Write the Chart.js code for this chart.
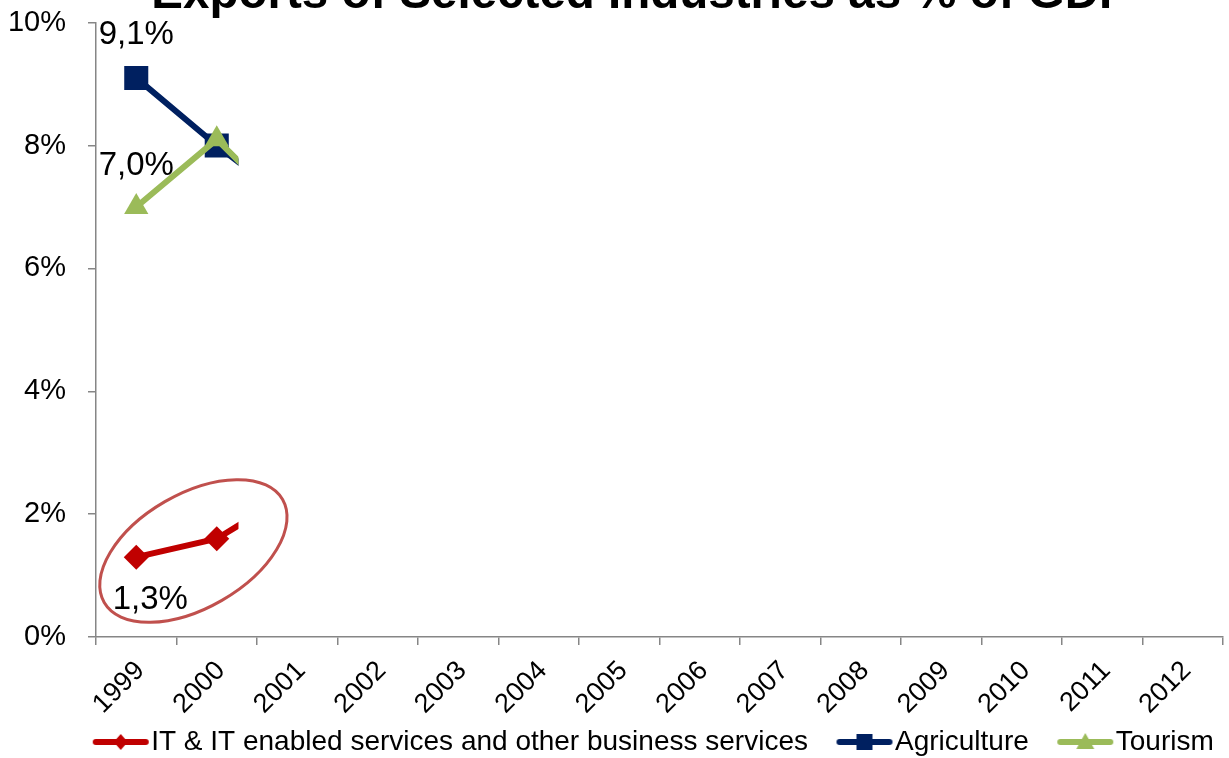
<!DOCTYPE html>
<html>
<head>
<meta charset="utf-8">
<script src="https://cdn.jsdelivr.net/npm/chart.js@4/dist/chart.umd.min.js"></script>
<style>
    html, body { margin: 0; padding: 0; background: #fff; }
    #wrap { position: relative; width: 1229px; height: 758px; overflow: hidden; }
    #chart { position: absolute; left: 0; top: -40px; }
</style>
</head>
<body>
<div id="wrap"><canvas id="chart" width="1240" height="806"></canvas></div>
<script>
// DATA
const years = ['1999', '2000', '2001', '2002', '2003', '2004', '2005', '2006', '2007', '2008', '2009', '2010', '2011', '2012'];
const itValues = [1.3, 1.6, 2.4, null, null, null, null, null, null, null, null, null, null, null];
const agricultureValues = [9.1, 8.0, 7.0, null, null, null, null, null, null, null, null, null, null, null];
const tourismValues = [7.0, 8.1, 6.8, null, null, null, null, null, null, null, null, null, null, null];
const yTicks = [0, 2, 4, 6, 8, 10];
const seriesNames = ['IT & IT enabled services and other business services', 'Agriculture', 'Tourism'];
const chartTitle = 'Exports of Selected Industries as % of GDP';

// STYLE
const FONT = 'Liberation Sans, Arial, sans-serif';
const RED = '#c00000';
const NAVY = '#002060';
const GREEN = '#9bbb59';
const AXIS = '#868686';
const REVEAL = 1.27; // lines only drawn up to this category index

// LEGEND SWATCHES (line with marker, blank space on the left)
function makeSwatch(color, marker){
    const c = document.createElement('canvas');
    c.width = 88;
    c.height = 20;
    const ctx = c.getContext('2d');
    ctx.strokeStyle = color;
    ctx.fillStyle = color;
    ctx.lineWidth = 6;
    ctx.lineCap = 'round';
    ctx.beginPath();
    ctx.moveTo(34, 10);
    ctx.lineTo(84, 10);
    ctx.stroke();
    ctx.beginPath();
    if (marker === 'diamond'){
        ctx.moveTo(59, 2); ctx.lineTo(66, 10); ctx.lineTo(59, 18); ctx.lineTo(52, 10);
    } else if (marker === 'square'){
        ctx.rect(51, 2, 16, 16);
    } else {
        ctx.moveTo(59, 1); ctx.lineTo(68, 17); ctx.lineTo(50, 17);
    }
    ctx.closePath();
    ctx.fill();
    return c;
}
const swatches = [makeSwatch(RED, 'diamond'), makeSwatch(NAVY, 'square'), makeSwatch(GREEN, 'triangle')];

// PLUGIN: box nudges, reveal clip, first point labels, highlight ellipse
const overlayPlugin = {
    id: 'overlay',
    afterLayout(chart){
        // title and legend sit right of the canvas centre in the original
        chart.titleBlock.left += 44;
        chart.legend.left += 50;
    },
    beforeDatasetsDraw(chart){
        const ctx = chart.ctx;
        const clipX = chart.scales.x.getPixelForValue(REVEAL);
        ctx.save();
        ctx.beginPath();
        ctx.rect(0, 0, clipX, chart.height);
        ctx.clip();
    },
    afterDatasetsDraw(chart){
        const ctx = chart.ctx;
        ctx.restore();

        const x = chart.scales.x;
        const y = chart.scales.y;

        // labels on the first year
        const offsets = [[14, 43], [0, -43], [0, -41]];
        ctx.save();
        ctx.font = '33px ' + FONT;
        ctx.fillStyle = '#000';
        ctx.textAlign = 'center';
        ctx.textBaseline = 'middle';
        chart.data.datasets.forEach((ds, i) => {
            const v = ds.data[0];
            const px = x.getPixelForValue(0);
            const py = y.getPixelForValue(v);
            ctx.fillText(v.toFixed(1).replace('.', ',') + '%', px + offsets[i][0], py + offsets[i][1]);
        });
        ctx.restore();

        // ellipse round the IT series
        const cx = x.getPixelForValue(0.71);
        const cy = y.getPixelForValue(1.4);
        ctx.save();
        ctx.strokeStyle = '#c0504d';
        ctx.lineWidth = 3;
        ctx.beginPath();
        ctx.ellipse(cx, cy, 103, 57, -Math.PI / 6, 0, Math.PI * 2);
        ctx.stroke();
        ctx.restore();
    }
};

const chartCtx = document.getElementById('chart').getContext('2d');
const myChart = new Chart(chartCtx, {
    type: 'line',
    data: {
        labels: years,
        datasets: [{
            label: seriesNames[0],
            data: itValues,
            borderColor: RED,
            backgroundColor: RED,
            borderWidth: 6,
            pointStyle: 'rectRot',
            pointRadius: 12.5,
            pointBorderWidth: 0,
            order: 1
        }, {
            label: seriesNames[1],
            data: agricultureValues,
            borderColor: NAVY,
            backgroundColor: NAVY,
            borderWidth: 6,
            pointStyle: 'rect',
            pointRadius: 17,
            pointBorderWidth: 0,
            order: 2
        }, {
            label: seriesNames[2],
            data: tourismValues,
            borderColor: GREEN,
            backgroundColor: GREEN,
            borderWidth: 6,
            pointStyle: 'triangle',
            pointRadius: 14,
            pointBorderWidth: 0,
            order: 0
        }]
    },
    options: {
        responsive: false,
        animation: false,
        devicePixelRatio: 1,
        layout: { padding: { left: 0, right: 2, top: 0, bottom: 0 } },
        elements: { line: { tension: 0 } },
        plugins: {
            title: {
                display: true,
                text: chartTitle,
                color: '#000',
                font: { family: FONT, size: 47.5, weight: 'bold', lineHeight: 1.15 },
                padding: { top: 8, bottom: 0 }
            },
            legend: {
                position: 'bottom',
                labels: {
                    usePointStyle: true,
                    pointStyleWidth: 63,
                    padding: 10,
                    color: '#000',
                    font: { family: FONT, size: 28 },
                    sort: (a, b) => a.datasetIndex - b.datasetIndex,
                    generateLabels: (chart) => chart.data.datasets.map((ds, i) => ({
                        text: ds.label,
                        pointStyle: swatches[i],
                        fillStyle: ds.borderColor,
                        strokeStyle: ds.borderColor,
                        lineWidth: 0,
                        fontColor: '#000',
                        hidden: false,
                        datasetIndex: i
                    }))
                }
            },
            tooltip: { enabled: false }
        },
        scales: {
            x: {
                offset: true,
                afterFit: (scale) => { scale.height = 81; },
                grid: {
                    offset: true,
                    drawOnChartArea: false,
                    drawTicks: true,
                    tickLength: 8,
                    color: AXIS,
                    lineWidth: 1.5
                },
                border: { color: AXIS, width: 1.5 },
                ticks: {
                    autoSkip: false,
                    minRotation: 45,
                    maxRotation: 45,
                    padding: 10,
                    labelOffset: 4,
                    color: '#000',
                    font: { family: FONT, size: 27 }
                }
            },
            y: {
                min: 0,
                max: 10,
                afterFit: (scale) => { scale.width = 96; },
                afterBuildTicks: (scale) => { scale.ticks = yTicks.map(v => ({ value: v })); },
                grid: {
                    drawOnChartArea: false,
                    drawTicks: true,
                    tickLength: 8,
                    color: AXIS,
                    lineWidth: 1.5
                },
                border: { color: AXIS, width: 1.5 },
                ticks: {
                    padding: 22,
                    color: '#000',
                    font: { family: FONT, size: 29 },
                    callback: (v) => v + '%'
                }
            }
        }
    },
    plugins: [overlayPlugin]
});
</script>
</body>
</html>
